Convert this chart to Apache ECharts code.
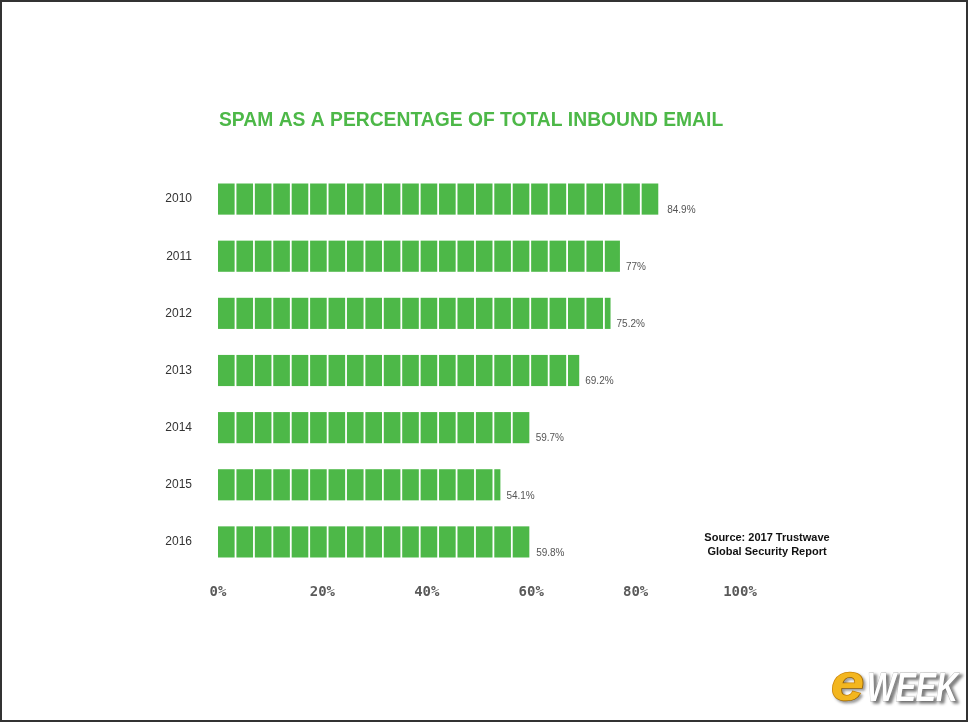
<!DOCTYPE html>
<html>
<head>
<meta charset="utf-8">
<script src="https://cdn.jsdelivr.net/npm/echarts@6/dist/echarts.min.js"></script>
<style>html,body{margin:0;padding:0;background:#fff;}#c{width:970px;height:725px;}</style>
</head>
<body>
<div id="c"></div>
<script>
const years = ['2010','2011','2012','2013','2014','2015','2016'];
const spamPct = [84.9, 77, 75.2, 69.2, 59.7, 54.1, 59.8];
const tickValues = [0, 20, 40, 60, 80, 100];
const titleText = 'SPAM AS A PERCENTAGE OF TOTAL INBOUND EMAIL';
const sourceText = 'Source: 2017 Trustwave\nGlobal Security Report';

const GREEN = '#4db848';
const chart = echarts.init(document.getElementById('c'), null, {renderer: 'canvas'});

const seriesData = spamPct.map((v, i) => [v, i]);

chart.setOption({
  animation: false,
  backgroundColor: '#fff',
  grid: {left: 218, width: 522, top: 170.5, height: 400, containLabel: false},
  xAxis: {
    type: 'value', min: tickValues[0], max: tickValues[tickValues.length - 1], interval: 20,
    axisLine: {show: false}, axisTick: {show: false}, splitLine: {show: false},
    axisLabel: {
      margin: 15, formatter: v => v + '%',
      fontFamily: 'DejaVu Sans Mono', fontWeight: 'bold', fontSize: 14, color: '#5a5a5a'
    }
  },
  yAxis: {
    type: 'category', data: years, inverse: true,
    axisLine: {show: false}, axisTick: {show: false}, splitLine: {show: false},
    axisLabel: {margin: 26, fontFamily: 'Liberation Sans', fontSize: 12, color: '#333'}
  },
  graphic: [
    {type: 'rect', shape: {x: 1, y: 1, width: 966, height: 720}, style: {fill: 'none', stroke: '#333', lineWidth: 2}, z: 100},
    {type: 'text', left: 219, top: 111, style: {text: titleText, fill: GREEN, font: 'bold 19.3px "Liberation Sans", Arial, sans-serif'}},
    {type: 'text', x: 767, y: 531, style: {text: sourceText, fill: '#111', font: 'bold 11px "Liberation Sans", Arial, sans-serif', align: 'center', lineHeight: 14}},
    {type: 'text', x: 831, y: 686, scaleX: 1.15, style: {text: 'e', fill: '#f3b61f', verticalAlign: 'middle', font: 'italic 900 52px "Liberation Sans", Arial, sans-serif', stroke: '#d08a0c', lineWidth: 1.5, textShadowColor: 'rgba(0,0,0,0.35)', textShadowBlur: 3, textShadowOffsetX: 2, textShadowOffsetY: 2}},
    {type: 'text', x: 867, y: 690, scaleX: 0.74, style: {text: 'WEEK', fill: '#ffffff', verticalAlign: 'middle', font: 'italic bold 41px "Liberation Sans", Arial, sans-serif', stroke: '#bdbdbd', lineWidth: 1, textShadowColor: 'rgba(0,0,0,0.5)', textShadowBlur: 3, textShadowOffsetX: 3, textShadowOffsetY: 2}}
  ],
  series: [{
    type: 'custom',
    encode: {x: 0, y: 1},
    data: seriesData,
    renderItem: function (params, api) {
      const val = api.value(0);
      const idx = api.value(1);
      const start = api.coord([0, idx]);
      const end = api.coord([val, idx]);
      const h = api.size([0, 1])[1] * 0.545;
      const pitch = 18.42, gap = 1.8;
      const children = [];
      for (let x = start[0]; x < end[0] - 1.5; x += pitch) {
        const w = Math.min(pitch - gap, end[0] - x);
        children.push({type: 'rect', shape: {x: x, y: start[1] - h / 2, width: w, height: h}, style: {fill: GREEN}});
      }
      children.push({type: 'text', x: end[0] + 6, y: start[1] + 11, style: {text: val + '%', fill: '#555', font: '10px "Liberation Sans", Arial, sans-serif', verticalAlign: 'middle'}});
      return {type: 'group', children: children};
    }
  }]
});
</script>
</body>
</html>
